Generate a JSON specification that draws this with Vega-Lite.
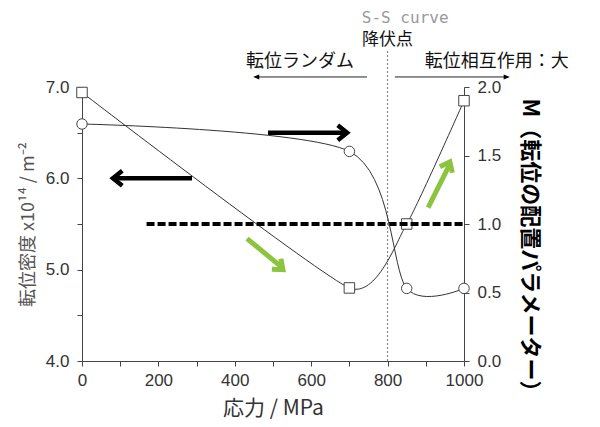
{
  "$schema": "https://vega.github.io/schema/vega-lite/v6.json",
  "width": 382,
  "height": 274,
  "autosize": {"type": "none"},
  "padding": {"left": 82, "top": 87, "right": 136, "bottom": 66},
  "background": "white",
  "config": {
    "view": {"stroke": null},
    "font": "Liberation Sans",
    "axis": {"domainColor": "#444", "tickColor": "#444", "labelColor": "#333", "labelFontSize": 17, "grid": false, "tickSize": 5, "labelFont": "Liberation Sans"}
  },
  "datasets": {
    "density": [{"x": 0, "y": 6.94}, {"x": 700, "y": 4.8}, {"x": 850, "y": 5.5}, {"x": 1000, "y": 6.85}],
    "mparam": [{"x": 0, "m": 1.73}, {"x": 700, "m": 1.53}, {"x": 850, "m": 0.53}, {"x": 1000, "m": 0.53}]
  },
  "encoding": {
    "x": {
      "field": "x", "type": "quantitative",
      "scale": {"domain": [0, 1000], "nice": false, "zero": false},
      "axis": {
        "values": [0, 100, 200, 300, 400, 500, 600, 700, 800, 900, 1000],
        "format": "d",
        "labelExpr": "datum.value % 200 === 0 ? datum.label : ''",
        "labelFlush": false,
        "labelPadding": 6,
        "title": "応力 / MPa",
        "titleFont": "Noto Sans CJK JP",
        "titleFontSize": 21,
        "titleFontWeight": "normal",
        "titleColor": "#333",
        "titlePadding": 9
      }
    }
  },
  "layer": [
    {
      "encoding": {
        "y": {
          "field": "y", "type": "quantitative",
          "scale": {"domain": [4, 7], "nice": false, "zero": false},
          "axis": {
            "values": [4, 4.5, 5, 5.5, 6, 6.5, 7],
            "format": ".1f",
            "labelExpr": "datum.value % 1 === 0 ? datum.label : ''",
            "labelPadding": 8,
            "title": "転位密度 x10¹⁴ / m⁻²",
            "titleFont": "Noto Sans CJK JP",
            "titleFontSize": 18,
            "titleFontWeight": "normal",
            "titleColor": "#555",
            "titlePadding": 8
          }
        }
      },
      "layer": [
        {"data": {"name": "density"}, "mark": {"type": "line", "interpolate": "cardinal", "tension": 0.5, "color": "#333", "strokeWidth": 1}},
        {"data": {"name": "density"}, "mark": {"type": "point", "shape": "square", "filled": true, "fill": "white", "stroke": "#444", "strokeWidth": 1, "size": 110, "opacity": 1}},
        {"data": {"values": [{"x": 800, "y": 4, "y2": 7.4}]}, "mark": {"type": "rule", "color": "#777", "strokeWidth": 1, "strokeDash": [2, 2]}, "encoding": {"y2": {"field": "y2"}}},
        {"data": {"values": [{"x": 487, "x2": 690, "y": 6.5}, {"x": 288, "x2": 85, "y": 6.0}]}, "mark": {"type": "rule", "color": "black", "strokeWidth": 4.5}, "encoding": {"x2": {"field": "x2"}}},
        {"data": {"values": [{"x": 694, "y": 6.5}]}, "mark": {"type": "point", "shape": "M -1 -0.8 L 0 0 L -1 0.8", "filled": false, "stroke": "black", "strokeWidth": 4.5, "size": 350, "opacity": 1, "angle": 0}},
        {"data": {"values": [{"x": 81, "y": 6.0}]}, "mark": {"type": "point", "shape": "M -1 -0.8 L 0 0 L -1 0.8", "filled": false, "stroke": "black", "strokeWidth": 4.5, "size": 350, "opacity": 1, "angle": 180}},
        {"data": {"values": [{"x": 432, "y": 5.34, "x2": 522, "y2": 5.03}, {"x": 906, "y": 5.68, "x2": 961, "y2": 6.14}]}, "mark": {"type": "rule", "color": "#8cc43f", "strokeWidth": 5}, "encoding": {"x2": {"field": "x2"}, "y2": {"field": "y2"}}},
        {"data": {"values": [{"x": 526, "y": 5.0}]}, "mark": {"type": "point", "shape": "M -1 -0.8 L 0 0 L -1 0.8", "filled": false, "stroke": "#8cc43f", "strokeWidth": 5, "size": 300, "opacity": 1, "angle": 40.7}},
        {"data": {"values": [{"x": 963, "y": 6.18}]}, "mark": {"type": "point", "shape": "M -1 -0.8 L 0 0 L -1 0.8", "filled": false, "stroke": "#8cc43f", "strokeWidth": 5, "size": 300, "opacity": 1, "angle": -64.4}},
        {"data": {"values": [{"x": 746, "x2": 455, "y": 7.11}, {"x": 819, "x2": 1112, "y": 7.11}]}, "mark": {"type": "rule", "color": "#222", "strokeWidth": 1}, "encoding": {"x2": {"field": "x2"}}},
        {"data": {"values": [{"x": 448, "y": 7.11}]}, "mark": {"type": "point", "shape": "M 0 0 L -1 -0.4 L -1 0.4 Z", "filled": true, "fill": "black", "strokeWidth": 0, "size": 150, "opacity": 1, "angle": 180}},
        {"data": {"values": [{"x": 1120, "y": 7.11}]}, "mark": {"type": "point", "shape": "M 0 0 L -1 -0.4 L -1 0.4 Z", "filled": true, "fill": "black", "strokeWidth": 0, "size": 150, "opacity": 1, "angle": 0}},
        {"data": {"values": [{"x": 571, "y": 7.27, "label": "転位ランダム"}, {"x": 1086, "y": 7.27, "label": "転位相互作用：大"}]}, "mark": {"type": "text", "font": "Noto Sans CJK JP", "fontSize": 18, "color": "#111", "align": "center", "baseline": "middle"}, "encoding": {"text": {"field": "label"}}},
        {"data": {"values": [{"x": 800, "y": 7.52, "label": "降伏点"}]}, "mark": {"type": "text", "font": "Noto Sans CJK JP", "fontSize": 17, "color": "#111", "align": "center", "baseline": "middle"}, "encoding": {"text": {"field": "label"}}},
        {"data": {"values": [{"x": 846, "y": 7.76, "label": "S-S curve"}]}, "mark": {"type": "text", "font": "DejaVu Sans Mono", "fontSize": 16, "color": "#999", "align": "center", "baseline": "middle"}, "encoding": {"text": {"field": "label"}}}
      ]
    },
    {
      "encoding": {
        "y": {
          "field": "m", "type": "quantitative",
          "scale": {"domain": [0, 2], "nice": false, "zero": false},
          "axis": {
            "orient": "right",
            "values": [0, 0.5, 1, 1.5, 2],
            "format": ".1f",
            "labelPadding": 8,
            "title": "M（転位の配置パラメーター）",
            "titleAngle": 90,
            "titleY": 163,
            "titleFont": "Noto Sans CJK JP",
            "titleFontSize": 22,
            "titleFontWeight": "bold",
            "titleColor": "#000",
            "titlePadding": 17
          }
        }
      },
      "layer": [
        {"data": {"values": [{"x": 169, "x2": 1000, "m": 1.0}]}, "mark": {"type": "rule", "color": "black", "strokeWidth": 4, "strokeDash": [8, 3]}, "encoding": {"x2": {"field": "x2"}}},
        {"data": {"name": "mparam"}, "mark": {"type": "line", "interpolate": "cardinal", "tension": 0.2, "color": "#333", "strokeWidth": 1}},
        {"data": {"name": "mparam"}, "mark": {"type": "point", "shape": "circle", "filled": true, "fill": "white", "stroke": "#444", "strokeWidth": 1, "size": 110, "opacity": 1}}
      ]
    }
  ],
  "resolve": {"scale": {"y": "independent"}}
}
